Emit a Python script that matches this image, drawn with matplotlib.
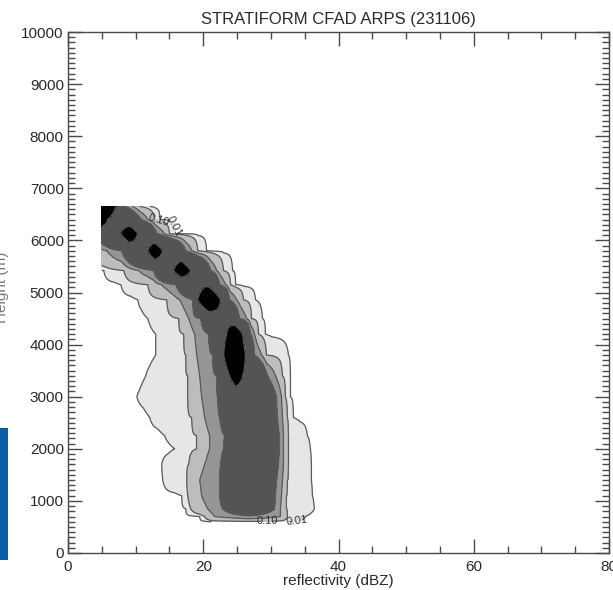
import numpy as np
import matplotlib
matplotlib.use('Agg')
import matplotlib.pyplot as plt
from matplotlib.ticker import MultipleLocator
from matplotlib.patches import Rectangle

plt.rcParams['font.family'] = ['Liberation Sans', 'DejaVu Sans']

nan = np.nan
# CFAD frequency contours (percent), row by row.
heights = [6650, 6400, 6130, 5800, 5420, 5150, 4860, 4500, 4200, 3800, 3400,
           3000, 2600, 2250, 2000, 1700, 1400, 1100, 850, 700, 600]
# left edges (dBZ) of each frequency level
l1 = [2.0, 1.0, 1.5, 1.9, 5.3, 7.82, 10.32, 11.8, 12.98, 12.98, 11.5,
      10.18, 12.09, 14.31, 15.78, 13.86, 14.01, 16.81, 17.4, 19.47, 21.24]
l2 = [2.8, 2.0, 2.5, 3.4, 8.26, 11.8, 14.6, 16.37, 17.11, 17.4, 17.7,
      17.7, 18.29, 19.03, 19.03, 17.85, 17.55, 17.7, 18.14, 20.21, nan]
l3 = [3.5, 3.0, 3.5, 5.75, 10.47, 13.86, 16.52, 17.85, 18.73, 19.03, 19.47,
      19.76, 20.21, 20.94, 20.94, 20.21, 19.47, 19.76, 20.65, 21.68, nan]
l4 = [4.2, 4.0, 4.3, 7.96, 12.68, 15.93, 18.44, 19.62, 20.8, 21.39, 21.98,
      22.12, 22.42, 23.16, 23.01, 22.57, 22.42, 22.42, 22.86, nan, nan]
bl = [4.6, 4.6, 7.8, 11.8, 15.63, nan, 19.17, nan, 23.45, 23.01, 23.89,
      nan, nan, nan, nan, nan, nan, nan, nan, nan, nan]
peak_x = [5.0, 5.0, 9.1, 12.83, 16.81, 20.5, 20.94, 23.16, 24.63, 24.63, 24.78,
          26.1, 26.5, 26.8, 26.8, 26.8, 26.8, 26.8, 26.8, 26.8, 26.8]
peak_v = [8, 8, 8, 8, 8, 4.6, 10, 4.5, 9, 10, 7,
          4.0, 3.5, 3.5, 3.5, 3.5, 3.5, 3.5, 2.5, 0.85, 0.05]
br = [7.1, 5.9, 10.3, 14.0, 18.14, nan, 22.57, nan, 25.81, 26.25, 25.81,
      nan, nan, nan, nan, nan, nan, nan, nan, nan, nan]
r4 = [8.5, 10.8, 13.1, 17.4, 21.09, 22.42, 23.89, 25.37, 26.99, 27.58, 29.5,
      30.83, 30.97, 31.27, 31.27, 31.12, 30.83, 30.68, 30.53, nan, nan]
r3 = [9.6, 11.8, 14.2, 18.3, 21.98, 23.3, 24.93, 26.4, 27.58, 28.61, 30.68,
      31.56, 31.71, 31.86, 31.86, 31.86, 31.71, 31.56, 31.42, 31.42, nan]
r2 = [10.6, 12.8, 15.0, 19.2, 23.0, 24.04, 25.96, 27.14, 28.17, 29.35, 31.71,
      32.15, 32.45, 32.6, 32.6, 32.6, 32.45, 32.3, 32.3, 32.45, nan]
r1 = [12.1, 13.6, 15.9, 20.5, 24.34, 24.78, 27.73, 28.76, 29.2, 32.6, 32.89,
      32.89, 33.33, 35.4, 35.84, 35.99, 35.99, 36.14, 36.43, 35.1, 32.74]

levels = [0.01, 0.10, 0.50, 1.00, 5.00]
fill_colors = ['#e6e6e6', '#bdbdbd', '#959595', '#545454', '#000000']

title = 'STRATIFORM CFAD ARPS (231106)'
xlabel = 'reflectivity (dBZ)'
ylabel = 'Height (m)'

# build the frequency field on the reflectivity bins
xg = np.arange(5.0, 40.0001, 0.05)
Z = np.zeros((len(heights), len(xg)))
for i in range(len(heights)):
    xs = [l1[i] - 1.0, l1[i], l2[i], l3[i], l4[i], bl[i], peak_x[i], br[i],
          r4[i], r3[i], r2[i], r1[i], r1[i] + 1.0]
    vs = [0, levels[0], levels[1], levels[2], levels[3], levels[4], peak_v[i],
          levels[4], levels[3], levels[2], levels[1], levels[0], 0]
    pts = [(x, v) for x, v in zip(xs, vs) if not np.isnan(x)]
    px, pv = zip(*pts)
    Z[i] = np.interp(xg, px, pv, left=0, right=0)

fig = plt.figure(figsize=(6.13, 5.90), dpi=100)
ax = fig.add_axes([68 / 613, 37 / 590, 541 / 613, 521 / 590])

ax.contourf(xg, heights, Z, levels=levels + [1000], colors=fill_colors)
cs = ax.contour(xg, heights, Z, levels=levels, colors='#5a5a5a', linewidths=0.9)
ax.clabel(cs, levels=levels[:2],
          manual=[(15.8, 6280), (33.8, 650), (13.0, 6120), (29.4, 700)],
          fmt='%.2f', fontsize=8, inline=True, inline_spacing=2,
          colors='#333333')

ax.set_xlim(0, 80)
ax.set_ylim(0, 10000)
ax.set_xticks([0, 20, 40, 60, 80])
ax.xaxis.set_minor_locator(MultipleLocator(5))
ax.yaxis.set_major_locator(MultipleLocator(1000))
ax.yaxis.set_minor_locator(MultipleLocator(100))
ax.tick_params(which='both', direction='in', top=True, right=True,
               color='#4a4a4a', labelcolor='#2a2a2a', labelsize=11)
ax.tick_params(which='major', length=10, width=1)
ax.tick_params(which='minor', length=5, width=1)
ax.tick_params(axis='x', which='major', pad=5)
ax.tick_params(axis='y', which='major', pad=3)
for s in ax.spines.values():
    s.set_color('#4a4a4a')
    s.set_linewidth(1.0)

ax.set_title(title, fontsize=12, color='#2a2a2a', pad=6)
ax.set_xlabel(xlabel, fontsize=11, color='#2a2a2a', labelpad=0)
fig.text(9 / 613, 1 - 287 / 590, ylabel, rotation=90, ha='right', va='center',
         fontsize=11, color='#7a7a7a')

fig.patches.append(Rectangle((0, 30 / 590), 8 / 613, 132 / 590,
                             transform=fig.transFigure, facecolor='#0b5ea6',
                             edgecolor='none'))

fig.savefig('out.png', dpi=100)
